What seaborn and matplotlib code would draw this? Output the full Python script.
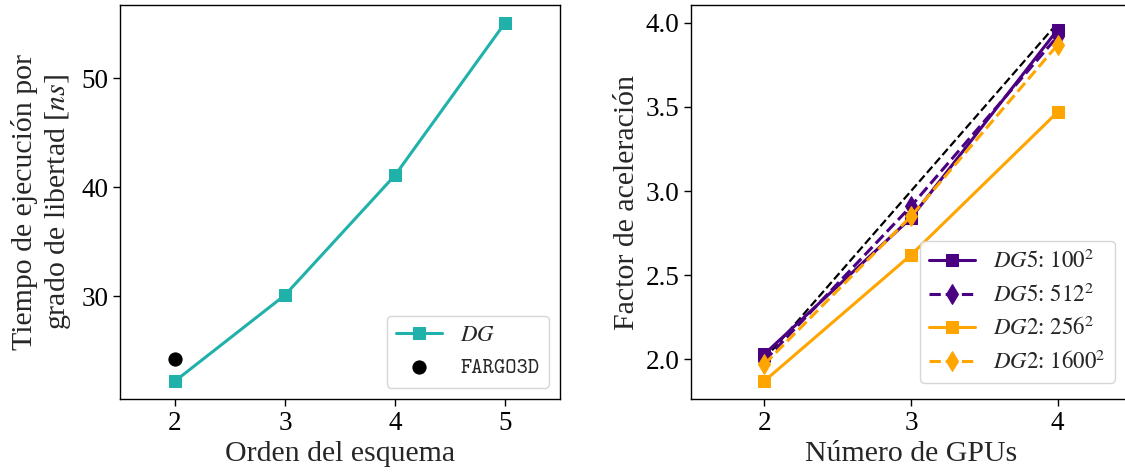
import matplotlib
matplotlib.use("Agg")
import matplotlib.pyplot as plt
import seaborn as sns
import numpy as np

# Execution time per degree of freedom vs. scheme order
orders = [2, 3, 4, 5]
time_dg = [22.2, 30.1, 41.1, 55.1]
order_fargo = [2]
time_fargo = [24.2]

# Strong-scaling speedup vs. number of GPUs
gpus = [2, 3, 4]
ideal = [2.0, 3.0, 4.0]
dg5_100 = [2.03, 2.84, 3.96]
dg5_512 = [1.99, 2.91, 3.92]
dg2_256 = [1.87, 2.62, 3.47]
dg2_1600 = [1.97, 2.85, 3.87]

sns.set_style("ticks")
plt.rcParams["font.family"] = ["Liberation Serif", "DejaVu Serif"]
plt.rcParams["mathtext.fontset"] = "stix"
plt.rcParams["font.size"] = 19
plt.rcParams["xtick.labelsize"] = 19.5
plt.rcParams["ytick.labelsize"] = 19.5
plt.rcParams["axes.labelsize"] = 21.5
plt.rcParams["axes.linewidth"] = 1.0
plt.rcParams["axes.edgecolor"] = "black"
plt.rcParams["xtick.color"] = "black"
plt.rcParams["ytick.color"] = "black"

W, H = 1125, 474
fig = plt.figure(figsize=(W / 100, H / 100), dpi=100)
ax1 = fig.add_axes([120 / W, 75 / H, 440 / W, 394 / H])
ax2 = fig.add_axes([691 / W, 75 / H, 440 / W, 394 / H])

teal = "#20B2AA"
purple = "#4B0082"
orange = "#FFA500"

# Left panel
sns.lineplot(x=orders, y=time_dg, ax=ax1, color=teal, marker="s", markersize=9,
             markeredgecolor=teal, linewidth=2.2, label="$DG$")
sns.scatterplot(x=order_fargo, y=time_fargo, ax=ax1, color="black", s=90,
                edgecolor="black", label="FARGO3D", zorder=3)
ax1.set_xlim(1.5, 5.5)
ax1.set_xticks([2, 3, 4, 5])
ax1.set_yticks([30, 40, 50])
ax1.set_xlabel("Orden del esquema")
ax1.set_ylabel("Tiempo de ejecución por\ngrado de libertad [$ns$]", labelpad=6)
leg1 = ax1.legend(loc="lower right", fontsize=16.5, framealpha=0.8, edgecolor="#cccccc",
                  fancybox=True, handlelength=2.0)
for t in leg1.get_texts():
    if t.get_text() == "FARGO3D":
        t.set_fontfamily("cmtt10")
        t.set_fontsize(15.5)

# Right panel
sns.lineplot(x=gpus, y=ideal, ax=ax2, color="black", linestyle="--", linewidth=1.6)
sns.lineplot(x=gpus, y=dg5_100, ax=ax2, color=purple, marker="s", markersize=9,
             markeredgecolor=purple, linewidth=2.2, label="$DG5$: $100^2$")
sns.lineplot(x=gpus, y=dg5_512, ax=ax2, color=purple, marker="d", markersize=10,
             markeredgecolor=purple, linewidth=2.2, linestyle="--", label="$DG5$: $512^2$")
sns.lineplot(x=gpus, y=dg2_256, ax=ax2, color=orange, marker="s", markersize=9,
             markeredgecolor=orange, linewidth=2.2, label="$DG2$: $256^2$")
sns.lineplot(x=gpus, y=dg2_1600, ax=ax2, color=orange, marker="d", markersize=10,
             markeredgecolor=orange, linewidth=2.2, linestyle="--", label="$DG2$: $1600^2$")
ax2.set_xlim(1.5, 4.5)
ax2.set_xticks([2, 3, 4])
ax2.set_yticks([2.0, 2.5, 3.0, 3.5, 4.0])
ax2.yaxis.set_major_formatter(matplotlib.ticker.FormatStrFormatter("%.1f"))
ax2.set_xlabel("Número de GPUs")
ax2.set_ylabel("Factor de aceleración")
ax2.legend(loc="lower right", fontsize=16.5, framealpha=0.8, edgecolor="#cccccc",
           fancybox=True, borderaxespad=0.7, labelspacing=0.45)

for ax in (ax1, ax2):
    ax.tick_params(direction="out", length=5, width=1)

fig.savefig("out.png", dpi=100)
